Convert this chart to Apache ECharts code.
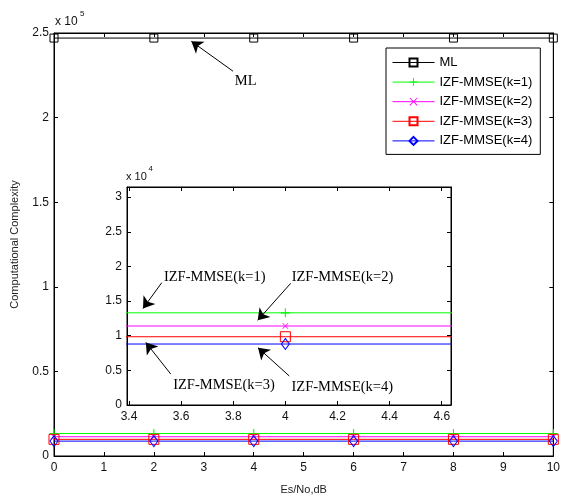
<!DOCTYPE html>
<html><head><meta charset="utf-8">
<script src="https://cdn.jsdelivr.net/npm/echarts@6/dist/echarts.min.js"></script>
<style>html,body{margin:0;padding:0;background:#fff}#c{width:563px;height:500px}</style>
</head><body><div id="c"></div>
<script>
// ---- data ----
const snr = [0, 2, 4, 6, 8, 10];
const seriesNames = ['ML', 'IZF-MMSE(k=1)', 'IZF-MMSE(k=2)', 'IZF-MMSE(k=3)', 'IZF-MMSE(k=4)'];
const mlVals = [247000, 247000, 247000, 247000, 247000, 247000];
const k1Vals = [13300, 13300, 13300, 13300, 13300, 13300];
const k2Vals = [11400, 11400, 11400, 11400, 11400, 11400];
const k3Vals = [9850, 9850, 9850, 9850, 9850, 9850];
const k4Vals = [8800, 8800, 8800, 8800, 8800, 8800];
const insetXTicks = [3.4, 3.6, 3.8, 4.0, 4.2, 4.4, 4.6];
const insetYTicks = [0, 5000, 10000, 15000, 20000, 25000, 30000];
// annotations: [tail, tip] in data coordinates, and text anchor
const mlArrow = [[3.586, 227400], [2.75, 245100]];
const mlText = [3.84, 221600];
const insetArrows = [
  [[3.5255, 17648], [3.4537, 13925]],
  [[4.0205, 17561], [3.8939, 12222]],
  [[3.56, 4473], [3.4645, 9033]],
  [[4.015, 4185], [3.895, 8268]]
];
const insetTexts = [[3.729, 18470], [4.219, 18470], [3.7645, 2886], [4.2185, 2641]];

// ---- styles ----
const colors = ['#000000', '#00ff00', '#ff00ff', '#ff0000', '#0000ff'];
const plusPath = 'path://M4.4,0H5.6V10H4.4ZM0,4.4H10V5.6H0Z';
const xPath = 'path://M0.8,0L5,4.2L9.2,0L10,0.8L5.8,5L10,9.2L9.2,10L5,5.8L0.8,10L0,9.2L4.2,5L0,0.8Z';
const symbols = [
  {symbol:'rect', size:8, hollow:true},
  {symbol:plusPath, size:9, hollow:false},
  {symbol:xPath, size:6, hollow:false},
  {symbol:'rect', size:10, hollow:true},
  {symbol:'diamond', size:[8,11], hollow:true}
];
const valsList = [mlVals, k1Vals, k2Vals, k3Vals, k4Vals];
const sans = 'Liberation Sans, Arial, sans-serif';
const serif = 'Liberation Serif, Times New Roman, serif';

function mkSeries(i, xi, yi) {
  const s = symbols[i];
  return {
    name: seriesNames[i], type: 'line', xAxisIndex: xi, yAxisIndex: yi,
    data: snr.map((x, j) => [x, valsList[i][j]]),
    symbol: s.symbol, symbolSize: s.size, showAllSymbol: true,
    lineStyle: {color: colors[i], width: 1},
    itemStyle: s.hollow ? {color: 'rgba(0,0,0,0)', borderColor: colors[i], borderWidth: 1}
                        : {color: colors[i], borderWidth: 0},
    emphasis: {disabled: true}, silent: true, clip: true, z: 3
  };
}
function arrowMark(a) {
  return {
    silent: true, symbol: ['none', 'arrow'], symbolSize: 11,
    lineStyle: {color: '#000', width: 1, type: 'solid'},
    itemStyle: {color: '#000'}, label: {show: false}, emphasis: {disabled: true},
    data: [[{coord: a[0]}, {coord: a[1]}]]
  };
}
function textMark(pos, txt) {
  return {
    silent: true, symbol: 'rect', symbolSize: 1, itemStyle: {color: 'rgba(0,0,0,0)'},
    label: {show: true, position: 'inside', formatter: txt, color: '#000', fontFamily: serif, fontSize: 14.5},
    data: [{coord: pos}]
  };
}

const series = [];
for (let i = 0; i < 5; i++) {
  const s = mkSeries(i, 0, 0);
  if (i === 0) { s.markLine = arrowMark(mlArrow); s.markPoint = textMark(mlText, 'ML'); }
  series.push(s);
}
for (let i = 1; i < 5; i++) {
  const s = mkSeries(i, 2, 2);
  s.markLine = arrowMark(insetArrows[i - 1]);
  s.markPoint = textMark(insetTexts[i - 1], seriesNames[i]);
  series.push(s);
}

const tickCommon = {inside: true, length: 4, lineStyle: {color: '#000', width: 1}};
const labelCommon = {color: '#111', fontFamily: sans, fontSize: 12};
const option = {
  animation: false,
  backgroundColor: '#fff',
  grid: [
    {left: 54, right: 9, top: 33, bottom: 42, show: true, borderColor: '#000', borderWidth: 1, backgroundColor: 'rgba(0,0,0,0)'},
    {left: 127, right: 112, top: 187, bottom: 95, show: true, borderColor: '#000', borderWidth: 1, backgroundColor: '#fff'}
  ],
  xAxis: [
    {type: 'value', gridIndex: 0, min: 0, max: 10, interval: 1, position: 'bottom',
     axisLine: {show: true, onZero: false, lineStyle: {color: '#000'}}, axisTick: tickCommon,
     axisLabel: Object.assign({margin: 6}, labelCommon), splitLine: {show: false},
     name: 'Es/No,dB', nameLocation: 'middle', nameGap: 28, nameTextStyle: {fontFamily: sans, fontSize: 11, color: '#222'}},
    {type: 'value', gridIndex: 0, min: 0, max: 10, interval: 1, position: 'top',
     axisLine: {show: true, onZero: false, lineStyle: {color: '#000'}}, axisTick: tickCommon,
     axisLabel: {show: false}, splitLine: {show: false}},
    {type: 'value', gridIndex: 1, min: 3.3923, max: 4.6356, position: 'bottom',
     axisLine: {show: true, onZero: false, lineStyle: {color: '#000'}},
     axisTick: Object.assign({customValues: insetXTicks}, tickCommon),
     axisLabel: Object.assign({margin: 6, customValues: insetXTicks, formatter: v => String(Math.round(v * 10) / 10)}, labelCommon),
     splitLine: {show: false}},
    {type: 'value', gridIndex: 1, min: 3.3923, max: 4.6356, position: 'top',
     axisLine: {show: true, onZero: false, lineStyle: {color: '#000'}},
     axisTick: Object.assign({customValues: insetXTicks}, tickCommon),
     axisLabel: {show: false}, splitLine: {show: false}}
  ],
  yAxis: [
    {type: 'value', gridIndex: 0, min: 0, max: 250000, interval: 50000, position: 'left',
     axisLine: {show: true, onZero: false, lineStyle: {color: '#000'}}, axisTick: tickCommon,
     axisLabel: Object.assign({margin: 5, formatter: v => String(v / 100000)}, labelCommon), splitLine: {show: false},
     name: 'Computational Complexity', nameLocation: 'middle', nameGap: 34, nameTextStyle: {fontFamily: sans, fontSize: 11, color: '#222'}},
    {type: 'value', gridIndex: 0, min: 0, max: 250000, interval: 50000, position: 'right',
     axisLine: {show: true, onZero: false, lineStyle: {color: '#000'}}, axisTick: tickCommon,
     axisLabel: {show: false}, splitLine: {show: false}},
    {type: 'value', gridIndex: 1, min: 0, max: 31460, position: 'left',
     axisLine: {show: true, onZero: false, lineStyle: {color: '#000'}},
     axisTick: Object.assign({customValues: insetYTicks}, tickCommon),
     axisLabel: Object.assign({margin: 5, customValues: insetYTicks, formatter: v => String(v / 10000)}, labelCommon),
     splitLine: {show: false}},
    {type: 'value', gridIndex: 1, min: 0, max: 31460, position: 'right',
     axisLine: {show: true, onZero: false, lineStyle: {color: '#000'}},
     axisTick: Object.assign({customValues: insetYTicks}, tickCommon),
     axisLabel: {show: false}, splitLine: {show: false}}
  ],
  legend: {
    data: seriesNames, orient: 'vertical', left: 386, top: 48,
    padding: [7, 8, 6, 6], itemGap: 4.6, itemWidth: 42, itemHeight: 10,
    lineStyle: {width: 1},
    borderColor: '#000', borderWidth: 1, backgroundColor: '#fff',
    textStyle: {fontFamily: sans, fontSize: 13, color: '#000', lineHeight: 15},
    selectedMode: false, z: 10
  },
  graphic: [
    {type: 'text', left: 55, top: 16, style: {text: 'x 10', font: '12px ' + sans, fill: '#111'}},
    {type: 'text', left: 80, top: 10, style: {text: '5', font: '8px ' + sans, fill: '#111'}},
    {type: 'text', left: 126, top: 171, style: {text: 'x 10', font: '11px ' + sans, fill: '#111'}},
    {type: 'text', left: 148.5, top: 165, style: {text: '4', font: '8px ' + sans, fill: '#111'}}
  ],
  series: series
};
const chart = echarts.init(document.getElementById('c'), null, {renderer: 'canvas'});
chart.setOption(option);
</script></body></html>
